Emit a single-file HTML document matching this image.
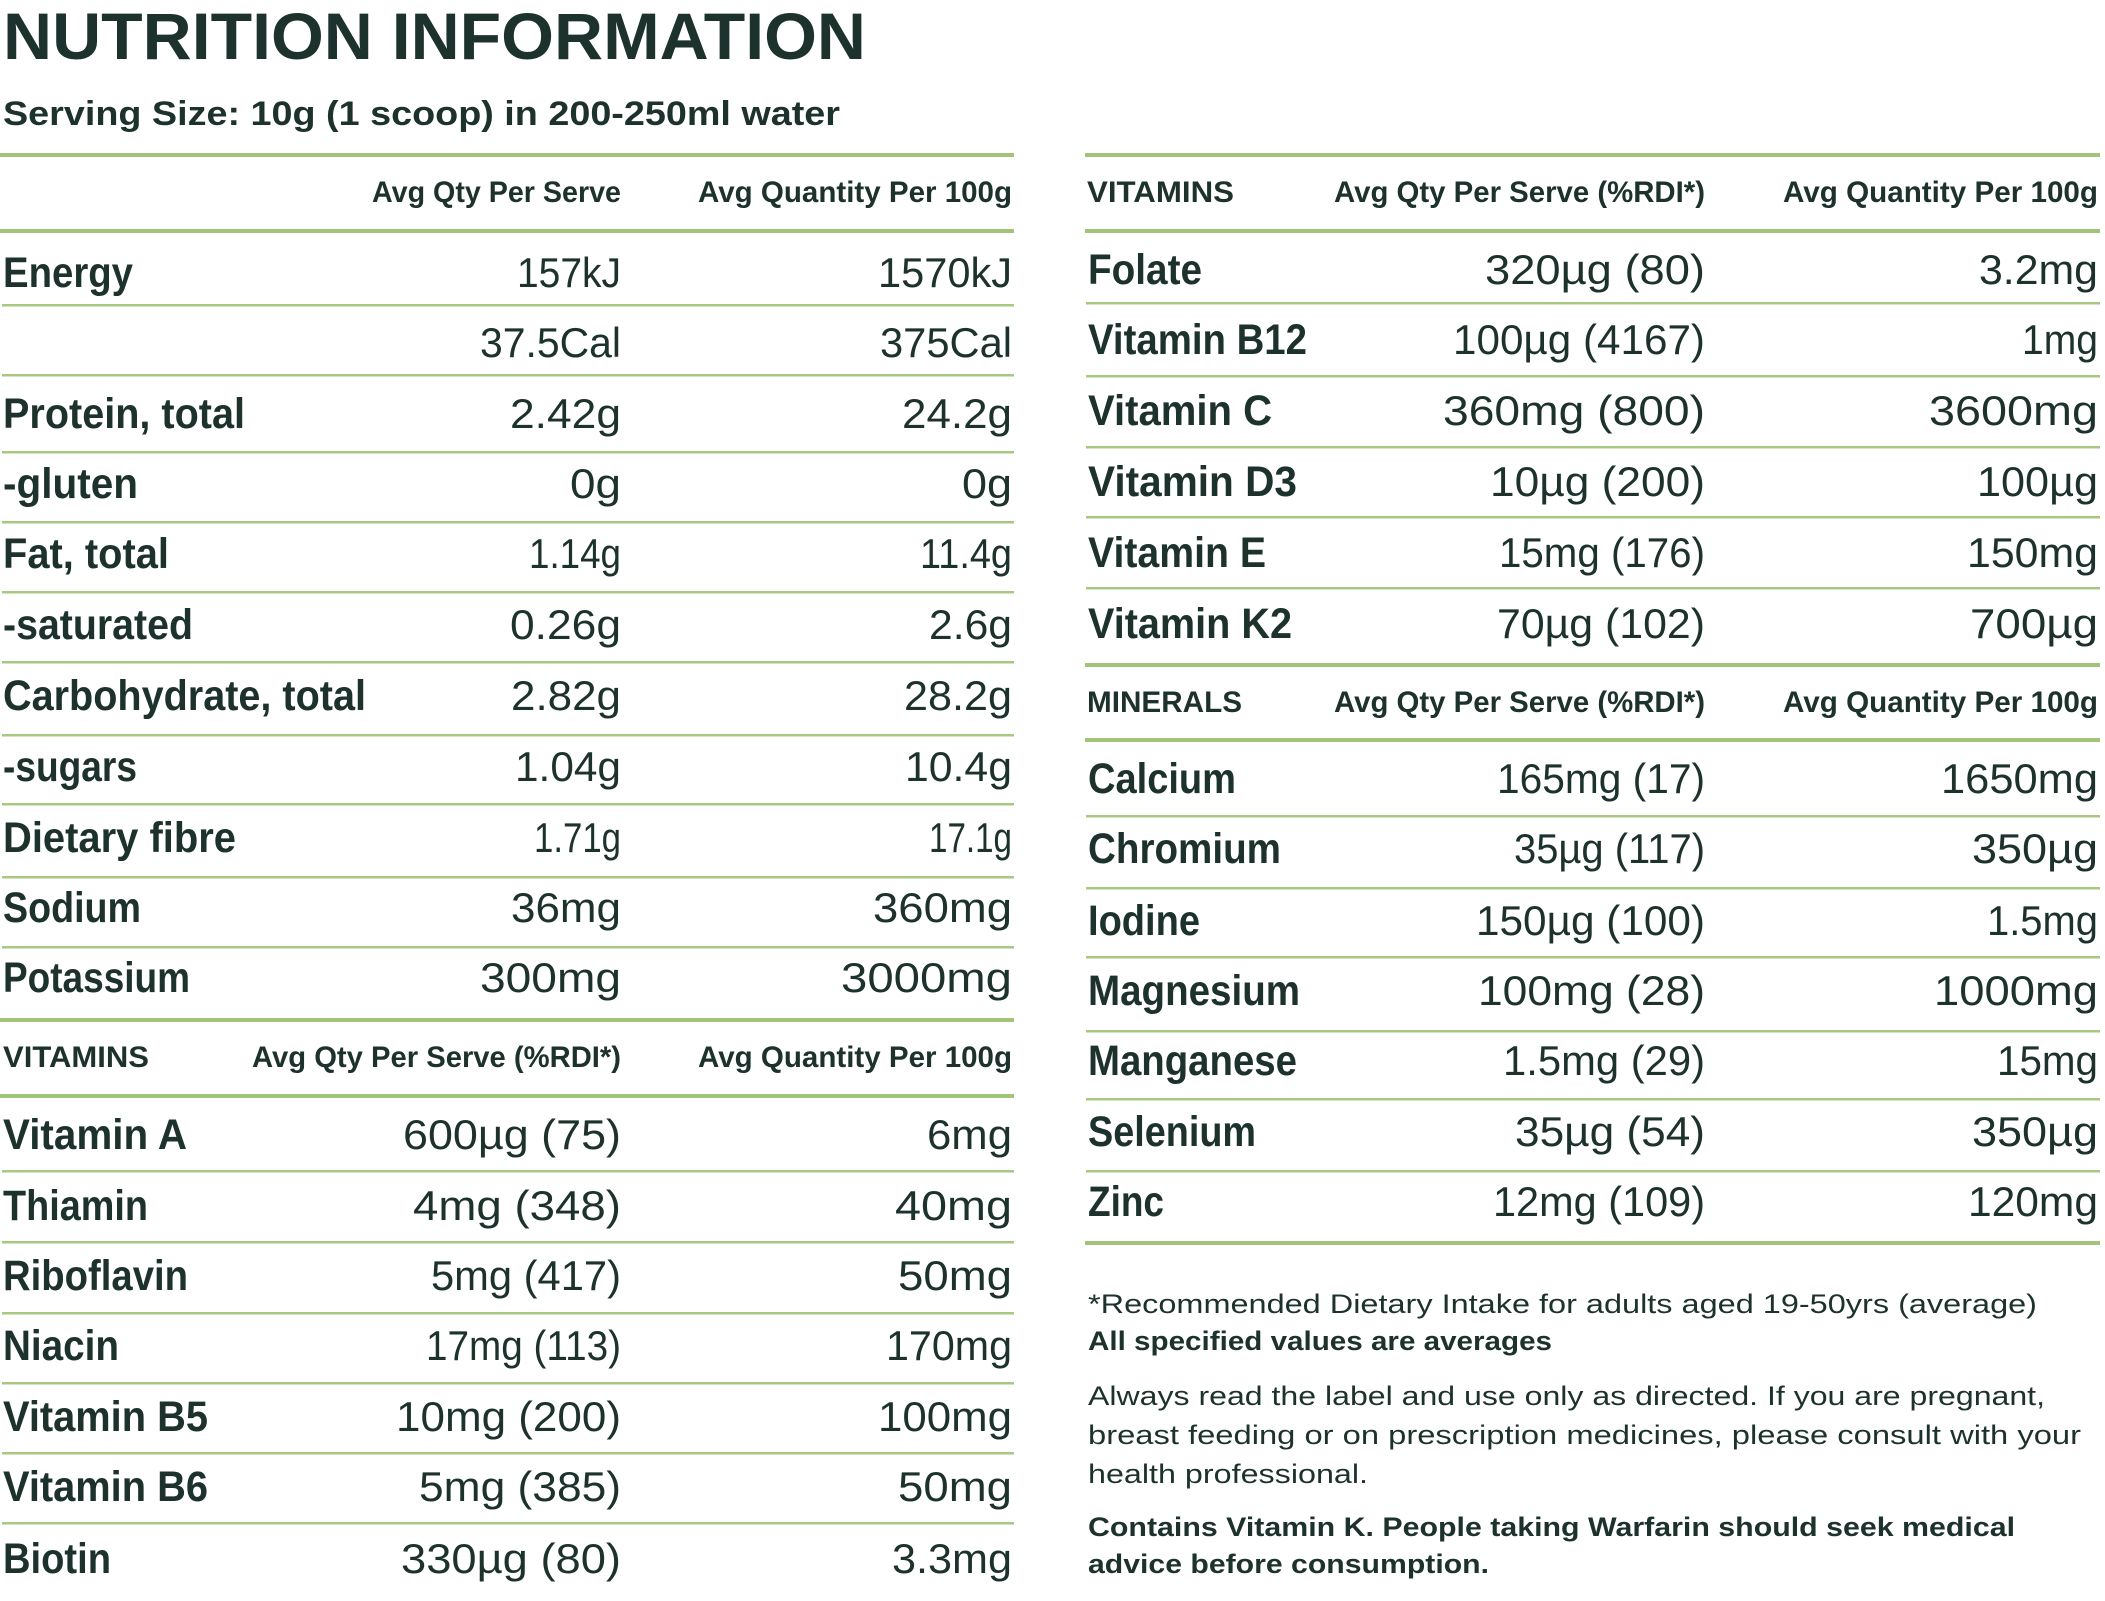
<!DOCTYPE html>
<html><head><meta charset="utf-8"><style>
html,body{margin:0;padding:0;background:#fff;}
svg{display:block;}
text{font-family:"Liberation Sans",sans-serif;fill:#1d322d;}
.t{font-weight:bold;font-size:66px;}
.s{font-weight:bold;font-size:34px;}
.h{font-weight:bold;font-size:30px;}
.l{font-weight:bold;font-size:43px;}
.v{font-size:42px;}
.f{font-size:27px;}
.fb{font-size:27px;font-weight:bold;}
.k{fill:#a2c479;}
.n{fill:#a8c881;}
</style></head><body>
<svg width="2105" height="1601" viewBox="0 0 2105 1601" xmlns="http://www.w3.org/2000/svg">
<rect width="2105" height="1601" fill="#fff"/>
<text class="t" x="3" y="59" textLength="863" lengthAdjust="spacingAndGlyphs">NUTRITION INFORMATION</text>
<text class="s" x="3" y="125" textLength="837" lengthAdjust="spacingAndGlyphs">Serving Size: 10g (1 scoop) in 200-250ml water</text>

<!-- LEFT LINES -->
<rect class="k" x="0" y="153" width="1014" height="4"/>
<rect class="k" x="0" y="229" width="1014" height="4"/>
<rect class="n" x="2" y="304" width="1012" height="2.5"/>
<rect class="n" x="2" y="374" width="1012" height="2.5"/>
<rect class="n" x="2" y="451" width="1012" height="2.5"/>
<rect class="n" x="2" y="521" width="1012" height="2.5"/>
<rect class="n" x="2" y="591" width="1012" height="2.5"/>
<rect class="n" x="2" y="661" width="1012" height="2.5"/>
<rect class="n" x="2" y="734" width="1012" height="2.5"/>
<rect class="n" x="2" y="803" width="1012" height="2.5"/>
<rect class="n" x="2" y="876" width="1012" height="2.5"/>
<rect class="n" x="2" y="946" width="1012" height="2.5"/>
<rect class="k" x="0" y="1018" width="1014" height="4"/>
<rect class="k" x="0" y="1094" width="1014" height="4"/>
<rect class="n" x="2" y="1170" width="1012" height="2.5"/>
<rect class="n" x="2" y="1241" width="1012" height="2.5"/>
<rect class="n" x="2" y="1312" width="1012" height="2.5"/>
<rect class="n" x="2" y="1382" width="1012" height="2.5"/>
<rect class="n" x="2" y="1452" width="1012" height="2.5"/>
<rect class="n" x="2" y="1522" width="1012" height="2.5"/>

<!-- RIGHT LINES -->
<rect class="k" x="1085" y="153" width="1015" height="4"/>
<rect class="k" x="1085" y="229" width="1015" height="4"/>
<rect class="n" x="1086" y="302" width="1014" height="2.5"/>
<rect class="n" x="1086" y="375" width="1014" height="2.5"/>
<rect class="n" x="1086" y="446" width="1014" height="2.5"/>
<rect class="n" x="1086" y="516" width="1014" height="2.5"/>
<rect class="n" x="1086" y="587" width="1014" height="2.5"/>
<rect class="k" x="1085" y="663" width="1015" height="4"/>
<rect class="k" x="1085" y="738" width="1015" height="4"/>
<rect class="n" x="1086" y="815" width="1014" height="2.5"/>
<rect class="n" x="1086" y="887" width="1014" height="2.5"/>
<rect class="n" x="1086" y="956" width="1014" height="2.5"/>
<rect class="n" x="1086" y="1030" width="1014" height="2.5"/>
<rect class="n" x="1086" y="1098" width="1014" height="2.5"/>
<rect class="n" x="1086" y="1170" width="1014" height="2.5"/>
<rect class="k" x="1085" y="1241" width="1015" height="4"/>

<!-- LEFT HEADERS -->
<text class="h" x="621" y="202" text-anchor="end" textLength="249" lengthAdjust="spacingAndGlyphs">Avg Qty Per Serve</text>
<text class="h" x="1012" y="202" text-anchor="end" textLength="314" lengthAdjust="spacingAndGlyphs">Avg Quantity Per 100g</text>

<!-- LEFT LABELS -->
<text class="l" x="3" y="287" textLength="130" lengthAdjust="spacingAndGlyphs">Energy</text>
<text class="l" x="3" y="428" textLength="242" lengthAdjust="spacingAndGlyphs">Protein, total</text>
<text class="l" x="3" y="498" textLength="135" lengthAdjust="spacingAndGlyphs">-gluten</text>
<text class="l" x="3" y="568" textLength="166" lengthAdjust="spacingAndGlyphs">Fat, total</text>
<text class="l" x="3" y="639" textLength="190" lengthAdjust="spacingAndGlyphs">-saturated</text>
<text class="l" x="3" y="710" textLength="363" lengthAdjust="spacingAndGlyphs">Carbohydrate, total</text>
<text class="l" x="3" y="781" textLength="134" lengthAdjust="spacingAndGlyphs">-sugars</text>
<text class="l" x="3" y="852" textLength="233" lengthAdjust="spacingAndGlyphs">Dietary fibre</text>
<text class="l" x="3" y="922" textLength="138" lengthAdjust="spacingAndGlyphs">Sodium</text>
<text class="l" x="3" y="992" textLength="187" lengthAdjust="spacingAndGlyphs">Potassium</text>

<!-- LEFT VALUES -->
<text class="v" x="621" y="287" text-anchor="end" textLength="104" lengthAdjust="spacingAndGlyphs">157kJ</text>
<text class="v" x="1012" y="287" text-anchor="end" textLength="134" lengthAdjust="spacingAndGlyphs">1570kJ</text>
<text class="v" x="621" y="357" text-anchor="end" textLength="141" lengthAdjust="spacingAndGlyphs">37.5Cal</text>
<text class="v" x="1012" y="357" text-anchor="end" textLength="132" lengthAdjust="spacingAndGlyphs">375Cal</text>
<text class="v" x="621" y="428" text-anchor="end" textLength="111" lengthAdjust="spacingAndGlyphs">2.42g</text>
<text class="v" x="1012" y="428" text-anchor="end" textLength="110" lengthAdjust="spacingAndGlyphs">24.2g</text>
<text class="v" x="621" y="498" text-anchor="end" textLength="51" lengthAdjust="spacingAndGlyphs">0g</text>
<text class="v" x="1012" y="498" text-anchor="end" textLength="50" lengthAdjust="spacingAndGlyphs">0g</text>
<text class="v" x="621" y="568" text-anchor="end" textLength="92" lengthAdjust="spacingAndGlyphs">1.14g</text>
<text class="v" x="1012" y="568" text-anchor="end" textLength="92" lengthAdjust="spacingAndGlyphs">11.4g</text>
<text class="v" x="621" y="639" text-anchor="end" textLength="111" lengthAdjust="spacingAndGlyphs">0.26g</text>
<text class="v" x="1012" y="639" text-anchor="end" textLength="83" lengthAdjust="spacingAndGlyphs">2.6g</text>
<text class="v" x="621" y="710" text-anchor="end" textLength="110" lengthAdjust="spacingAndGlyphs">2.82g</text>
<text class="v" x="1012" y="710" text-anchor="end" textLength="108" lengthAdjust="spacingAndGlyphs">28.2g</text>
<text class="v" x="621" y="781" text-anchor="end" textLength="106" lengthAdjust="spacingAndGlyphs">1.04g</text>
<text class="v" x="1012" y="781" text-anchor="end" textLength="107" lengthAdjust="spacingAndGlyphs">10.4g</text>
<text class="v" x="621" y="852" text-anchor="end" textLength="87" lengthAdjust="spacingAndGlyphs">1.71g</text>
<text class="v" x="1012" y="852" text-anchor="end" textLength="83" lengthAdjust="spacingAndGlyphs">17.1g</text>
<text class="v" x="621" y="922" text-anchor="end" textLength="110" lengthAdjust="spacingAndGlyphs">36mg</text>
<text class="v" x="1012" y="922" text-anchor="end" textLength="139" lengthAdjust="spacingAndGlyphs">360mg</text>
<text class="v" x="621" y="992" text-anchor="end" textLength="141" lengthAdjust="spacingAndGlyphs">300mg</text>
<text class="v" x="1012" y="992" text-anchor="end" textLength="171" lengthAdjust="spacingAndGlyphs">3000mg</text>

<!-- LEFT VITAMINS -->
<text class="h" x="3" y="1067" textLength="146" lengthAdjust="spacingAndGlyphs">VITAMINS</text>
<text class="h" x="621" y="1067" text-anchor="end" textLength="369" lengthAdjust="spacingAndGlyphs">Avg Qty Per Serve (%RDI*)</text>
<text class="h" x="1012" y="1067" text-anchor="end" textLength="314" lengthAdjust="spacingAndGlyphs">Avg Quantity Per 100g</text>

<text class="l" x="3" y="1149" textLength="184" lengthAdjust="spacingAndGlyphs">Vitamin A</text>
<text class="l" x="3" y="1220" textLength="145" lengthAdjust="spacingAndGlyphs">Thiamin</text>
<text class="l" x="3" y="1290" textLength="185" lengthAdjust="spacingAndGlyphs">Riboflavin</text>
<text class="l" x="3" y="1360" textLength="116" lengthAdjust="spacingAndGlyphs">Niacin</text>
<text class="l" x="3" y="1431" textLength="205" lengthAdjust="spacingAndGlyphs">Vitamin B5</text>
<text class="l" x="3" y="1501" textLength="205" lengthAdjust="spacingAndGlyphs">Vitamin B6</text>
<text class="l" x="3" y="1573" textLength="108" lengthAdjust="spacingAndGlyphs">Biotin</text>

<text class="v" x="621" y="1149" text-anchor="end" textLength="218" lengthAdjust="spacingAndGlyphs">600µg (75)</text>
<text class="v" x="1012" y="1149" text-anchor="end" textLength="85" lengthAdjust="spacingAndGlyphs">6mg</text>
<text class="v" x="621" y="1220" text-anchor="end" textLength="208" lengthAdjust="spacingAndGlyphs">4mg (348)</text>
<text class="v" x="1012" y="1220" text-anchor="end" textLength="117" lengthAdjust="spacingAndGlyphs">40mg</text>
<text class="v" x="621" y="1290" text-anchor="end" textLength="190" lengthAdjust="spacingAndGlyphs">5mg (417)</text>
<text class="v" x="1012" y="1290" text-anchor="end" textLength="114" lengthAdjust="spacingAndGlyphs">50mg</text>
<text class="v" x="621" y="1360" text-anchor="end" textLength="195" lengthAdjust="spacingAndGlyphs">17mg (113)</text>
<text class="v" x="1012" y="1360" text-anchor="end" textLength="126" lengthAdjust="spacingAndGlyphs">170mg</text>
<text class="v" x="621" y="1431" text-anchor="end" textLength="225" lengthAdjust="spacingAndGlyphs">10mg (200)</text>
<text class="v" x="1012" y="1431" text-anchor="end" textLength="134" lengthAdjust="spacingAndGlyphs">100mg</text>
<text class="v" x="621" y="1501" text-anchor="end" textLength="202" lengthAdjust="spacingAndGlyphs">5mg (385)</text>
<text class="v" x="1012" y="1501" text-anchor="end" textLength="114" lengthAdjust="spacingAndGlyphs">50mg</text>
<text class="v" x="621" y="1573" text-anchor="end" textLength="220" lengthAdjust="spacingAndGlyphs">330µg (80)</text>
<text class="v" x="1012" y="1573" text-anchor="end" textLength="120" lengthAdjust="spacingAndGlyphs">3.3mg</text>

<!-- RIGHT VITAMINS -->
<text class="h" x="1087" y="202" textLength="147" lengthAdjust="spacingAndGlyphs">VITAMINS</text>
<text class="h" x="1705" y="202" text-anchor="end" textLength="371" lengthAdjust="spacingAndGlyphs">Avg Qty Per Serve (%RDI*)</text>
<text class="h" x="2098" y="202" text-anchor="end" textLength="315" lengthAdjust="spacingAndGlyphs">Avg Quantity Per 100g</text>

<text class="l" x="1088" y="284" textLength="114" lengthAdjust="spacingAndGlyphs">Folate</text>
<text class="l" x="1088" y="354" textLength="219" lengthAdjust="spacingAndGlyphs">Vitamin B12</text>
<text class="l" x="1088" y="425" textLength="184" lengthAdjust="spacingAndGlyphs">Vitamin C</text>
<text class="l" x="1088" y="496" textLength="209" lengthAdjust="spacingAndGlyphs">Vitamin D3</text>
<text class="l" x="1088" y="567" textLength="178" lengthAdjust="spacingAndGlyphs">Vitamin E</text>
<text class="l" x="1088" y="638" textLength="204" lengthAdjust="spacingAndGlyphs">Vitamin K2</text>

<text class="v" x="1705" y="284" text-anchor="end" textLength="220" lengthAdjust="spacingAndGlyphs">320µg (80)</text>
<text class="v" x="2098" y="284" text-anchor="end" textLength="119" lengthAdjust="spacingAndGlyphs">3.2mg</text>
<text class="v" x="1705" y="354" text-anchor="end" textLength="252" lengthAdjust="spacingAndGlyphs">100µg (4167)</text>
<text class="v" x="2098" y="354" text-anchor="end" textLength="76" lengthAdjust="spacingAndGlyphs">1mg</text>
<text class="v" x="1705" y="425" text-anchor="end" textLength="262" lengthAdjust="spacingAndGlyphs">360mg (800)</text>
<text class="v" x="2098" y="425" text-anchor="end" textLength="169" lengthAdjust="spacingAndGlyphs">3600mg</text>
<text class="v" x="1705" y="496" text-anchor="end" textLength="215" lengthAdjust="spacingAndGlyphs">10µg (200)</text>
<text class="v" x="2098" y="496" text-anchor="end" textLength="121" lengthAdjust="spacingAndGlyphs">100µg</text>
<text class="v" x="1705" y="567" text-anchor="end" textLength="206" lengthAdjust="spacingAndGlyphs">15mg (176)</text>
<text class="v" x="2098" y="567" text-anchor="end" textLength="131" lengthAdjust="spacingAndGlyphs">150mg</text>
<text class="v" x="1705" y="638" text-anchor="end" textLength="208" lengthAdjust="spacingAndGlyphs">70µg (102)</text>
<text class="v" x="2098" y="638" text-anchor="end" textLength="128" lengthAdjust="spacingAndGlyphs">700µg</text>

<!-- RIGHT MINERALS -->
<text class="h" x="1087" y="712" textLength="155" lengthAdjust="spacingAndGlyphs">MINERALS</text>
<text class="h" x="1705" y="712" text-anchor="end" textLength="371" lengthAdjust="spacingAndGlyphs">Avg Qty Per Serve (%RDI*)</text>
<text class="h" x="2098" y="712" text-anchor="end" textLength="315" lengthAdjust="spacingAndGlyphs">Avg Quantity Per 100g</text>

<text class="l" x="1088" y="793" textLength="148" lengthAdjust="spacingAndGlyphs">Calcium</text>
<text class="l" x="1088" y="863" textLength="193" lengthAdjust="spacingAndGlyphs">Chromium</text>
<text class="l" x="1088" y="935" textLength="112" lengthAdjust="spacingAndGlyphs">Iodine</text>
<text class="l" x="1088" y="1005" textLength="212" lengthAdjust="spacingAndGlyphs">Magnesium</text>
<text class="l" x="1088" y="1075" textLength="209" lengthAdjust="spacingAndGlyphs">Manganese</text>
<text class="l" x="1088" y="1146" textLength="168" lengthAdjust="spacingAndGlyphs">Selenium</text>
<text class="l" x="1088" y="1216" textLength="76" lengthAdjust="spacingAndGlyphs">Zinc</text>

<text class="v" x="1705" y="793" text-anchor="end" textLength="208" lengthAdjust="spacingAndGlyphs">165mg (17)</text>
<text class="v" x="2098" y="793" text-anchor="end" textLength="157" lengthAdjust="spacingAndGlyphs">1650mg</text>
<text class="v" x="1705" y="863" text-anchor="end" textLength="191" lengthAdjust="spacingAndGlyphs">35µg (117)</text>
<text class="v" x="2098" y="863" text-anchor="end" textLength="126" lengthAdjust="spacingAndGlyphs">350µg</text>
<text class="v" x="1705" y="935" text-anchor="end" textLength="229" lengthAdjust="spacingAndGlyphs">150µg (100)</text>
<text class="v" x="2098" y="935" text-anchor="end" textLength="111" lengthAdjust="spacingAndGlyphs">1.5mg</text>
<text class="v" x="1705" y="1005" text-anchor="end" textLength="227" lengthAdjust="spacingAndGlyphs">100mg (28)</text>
<text class="v" x="2098" y="1005" text-anchor="end" textLength="164" lengthAdjust="spacingAndGlyphs">1000mg</text>
<text class="v" x="1705" y="1075" text-anchor="end" textLength="202" lengthAdjust="spacingAndGlyphs">1.5mg (29)</text>
<text class="v" x="2098" y="1075" text-anchor="end" textLength="101" lengthAdjust="spacingAndGlyphs">15mg</text>
<text class="v" x="1705" y="1146" text-anchor="end" textLength="190" lengthAdjust="spacingAndGlyphs">35µg (54)</text>
<text class="v" x="2098" y="1146" text-anchor="end" textLength="126" lengthAdjust="spacingAndGlyphs">350µg</text>
<text class="v" x="1705" y="1216" text-anchor="end" textLength="212" lengthAdjust="spacingAndGlyphs">12mg (109)</text>
<text class="v" x="2098" y="1216" text-anchor="end" textLength="130" lengthAdjust="spacingAndGlyphs">120mg</text>

<!-- FOOTNOTES -->
<text class="f" x="1088" y="1313" textLength="949" lengthAdjust="spacingAndGlyphs">*Recommended Dietary Intake for adults aged 19-50yrs (average)</text>
<text class="fb" x="1088" y="1350" textLength="464" lengthAdjust="spacingAndGlyphs">All specified values are averages</text>
<text class="f" x="1088" y="1405" textLength="957" lengthAdjust="spacingAndGlyphs">Always read the label and use only as directed. If you are pregnant,</text>
<text class="f" x="1088" y="1444" textLength="993" lengthAdjust="spacingAndGlyphs">breast feeding or on prescription medicines, please consult with your</text>
<text class="f" x="1088" y="1483" textLength="280" lengthAdjust="spacingAndGlyphs">health professional.</text>
<text class="fb" x="1088" y="1536" textLength="927" lengthAdjust="spacingAndGlyphs">Contains Vitamin K. People taking Warfarin should seek medical</text>
<text class="fb" x="1088" y="1573" textLength="401" lengthAdjust="spacingAndGlyphs">advice before consumption.</text>
</svg>
</body></html>
